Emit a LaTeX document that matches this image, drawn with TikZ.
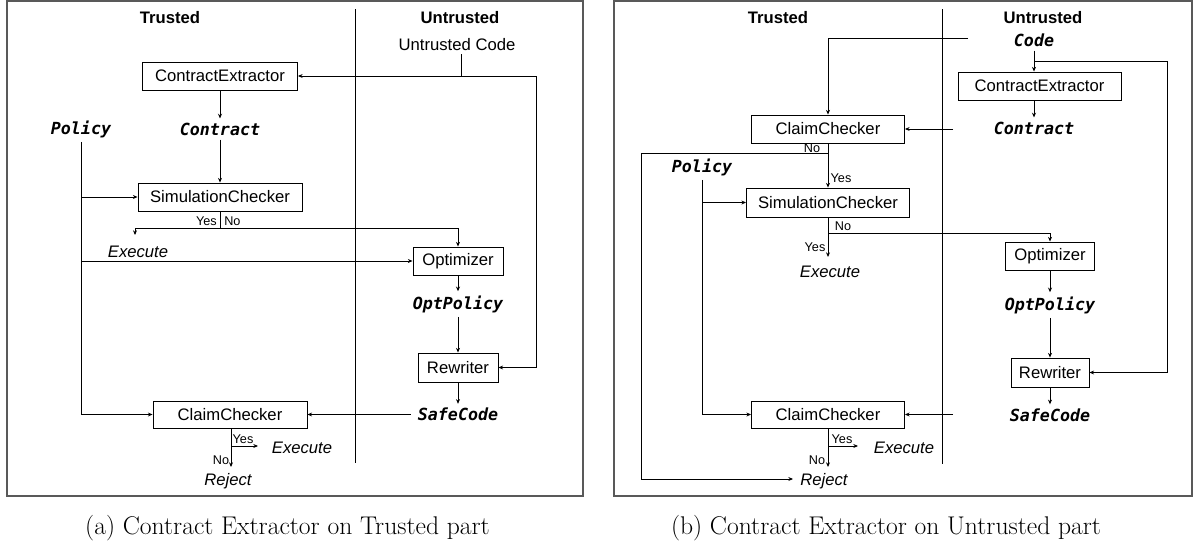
\documentclass[tikz,border=0pt]{standalone}
\usepackage{fontspec}
\newfontfamily\arial{Liberation Sans}
\newfontfamily\monof{DejaVu Sans Mono}
\usetikzlibrary{arrows.meta}
\begin{document}
\begin{tikzpicture}[x=0.75pt,y=-0.75pt,
 box/.style={draw,line width=0.7pt,inner sep=0pt,font=\arial\fontsize{12.5}{15}\selectfont},
 lbl/.style={inner sep=2pt,font=\arial\fontsize{12.5}{15}\selectfont},
 hdr/.style={inner sep=2pt,font=\arial\bfseries\fontsize{12.5}{15}\selectfont},
 itl/.style={inner sep=2pt,font=\arial\itshape\fontsize{12.5}{15}\selectfont},
 var/.style={inner ysep=3pt,inner xsep=5pt,font=\monof\bfseries\itshape\fontsize{12.5}{15}\selectfont},
 tiny/.style={inner sep=0pt,font=\arial\fontsize{9.5}{11}\selectfont},
 conn/.style={line width=0.6pt},
 arr/.style={conn,-{Stealth[length=3.5pt,width=3pt]}},
 frame/.style={draw=black!65,line width=1.3pt},
 divider/.style={line width=0.7pt},
 captxt/.style={inner sep=0pt,font=\fontsize{19.2}{22}\selectfont}]
\useasboundingbox (0,0) rectangle (1200,546);

% ---------------- left panel ----------------
\draw[frame] (7,1) rectangle (583,496);
\draw[divider] (355,9) -- (355,463);
\node[hdr] (tr1) at (170,18) {Trusted};
\node[hdr] (un1) at (460,18) {Untrusted};
\node[lbl] (uc1) at (457,45) {Untrusted Code};
\node[box,minimum width=116.25pt,minimum height=21pt] (ce1) at (220,76) {ContractExtractor};
\node[var] (con1) at (220,129) {Contract};
\node[var] (pol1) at (81,129) {Policy};
\node[box,minimum width=123pt,minimum height=21pt] (sim1) at (220,197) {SimulationChecker};
\node[itl] (ex1) at (138,252) {Execute};
\node[box,minimum width=67.5pt,minimum height=21pt] (opt1) at (458,261) {Optimizer};
\node[var] (op1) at (458,304) {OptPolicy};
\node[box,minimum width=60pt,minimum height=21.75pt] (rw1) at (458,367.5) {Rewriter};
\node[var] (sc1) at (458,414.5) {SafeCode};
\node[box,minimum width=115.5pt,minimum height=20.25pt] (cc1) at (230,414.5) {ClaimChecker};
\node[itl] (ex1b) at (302,448) {Execute};
\node[itl] (rj1) at (228,481) {Reject};
\node[tiny,anchor=east] (y1) at (217,221) {Yes};
\node[tiny,anchor=west] (n1) at (224,221) {No};
\node[tiny] (y1b) at (243,439) {Yes};
\node[tiny] (n1b) at (221,460) {No};

\coordinate (j1) at (461,76);
\coordinate (c1) at (536,76);
\coordinate (s1) at (220,228);
\coordinate (e1t) at (135,235);
\coordinate (k1) at (231,446);
\coordinate (k1y) at (258,446);
\coordinate (k1n) at (231,467);

\draw[conn] (uc1.south -| j1) -- (j1);
\draw[arr] (c1) -- (ce1.east);
\draw[arr] (c1) |- (rw1.east);
\draw[arr] (ce1) -- (con1);
\draw[arr] (con1) -- (sim1);
\draw[arr] (pol1.south) |- (cc1.west);
\draw[arr] (pol1.south |- sim1.west) -- (sim1.west);
\draw[arr] (pol1.south |- opt1.west) -- (opt1.west);
\draw[conn] (sim1.south) -- (s1);
\draw[arr] (s1) -| (e1t);
\draw[arr] (s1) -| (opt1.north);
\draw[arr] (opt1) -- (op1);
\draw[arr] (op1) -- (rw1);
\draw[arr] (rw1) -- (sc1);
\draw[arr] (sc1) -- (cc1);
\draw[arr] (cc1.south -| k1) -- (k1n);
\draw[arr] (k1) -- (k1y);

% ---------------- right panel ----------------
\draw[frame] (614,1) rectangle (1192,496);
\draw[divider] (942,9) -- (942,464);
\node[hdr] (tr2) at (778,18) {Trusted};
\node[hdr] (un2) at (1043,18) {Untrusted};
\node[var] (cd2) at (1034,40) {Code};
\node[box,minimum width=114.75pt,minimum height=21pt] (ct2) at (828,129) {ClaimChecker};
\node[box,minimum width=122.25pt,minimum height=21pt] (ce2) at (1039.5,86) {ContractExtractor};
\node[var] (con2) at (1034,128) {Contract};
\node[var] (pol2) at (702,167) {Policy};
\node[box,minimum width=122.25pt,minimum height=21.75pt] (sim2) at (828,202.5) {SimulationChecker};
\node[itl] (ex2) at (830,272) {Execute};
\node[box,minimum width=66.75pt,minimum height=21pt] (opt2) at (1050,256) {Optimizer};
\node[var] (op2) at (1050,305) {OptPolicy};
\node[box,minimum width=58.5pt,minimum height=21.75pt] (rw2) at (1050,372.5) {Rewriter};
\node[var] (sc2) at (1050,415) {SafeCode};
\node[box,minimum width=114.75pt,minimum height=20.25pt] (cc2) at (828,414.5) {ClaimChecker};
\node[itl] (ex2b) at (904,448) {Execute};
\node[itl] (rj2) at (824,481) {Reject};
\node[tiny] (n2a) at (812,148) {No};
\node[tiny] (y2a) at (841,178) {Yes};
\node[tiny] (n2b) at (843,226) {No};
\node[tiny] (y2b) at (815,247) {Yes};
\node[tiny] (y2c) at (842,439) {Yes};
\node[tiny] (n2c) at (817,460) {No};

\coordinate (q1) at (968,38);
\coordinate (q2) at (1034,61);
\coordinate (q3) at (1167,61);
\coordinate (q4) at (953,129);
\coordinate (n2) at (828,153);
\coordinate (n2l) at (641,153);
\coordinate (rj2t) at (793,479);
\coordinate (s2) at (828,233);
\coordinate (e2t) at (828,257);
\coordinate (q5) at (953,414.5);
\coordinate (k2) at (828,446);
\coordinate (k2y) at (858,446);
\coordinate (k2n) at (828,467);

\draw[arr] (q1) -| (ct2.north);
\draw[arr] (cd2.south) -- (cd2.south |- ce2.north);
\draw[arr] (q2) -- (q3) |- (rw2.east);
\draw[arr] (ce2.south -| con2) -- (con2.north);
\draw[arr] (q4) -- (ct2.east);
\draw[arr] (ct2.south) -- (sim2.north);
\draw[arr] (n2) -- (n2l) |- (rj2t);
\draw[arr] (pol2.south) |- (cc2.west);
\draw[arr] (pol2.south |- sim2.west) -- (sim2.west);
\draw[arr] (sim2.south) -- (e2t);
\draw[arr] (s2) -| (opt2.north);
\draw[arr] (opt2) -- (op2);
\draw[arr] (op2) -- (rw2);
\draw[arr] (rw2) -- (sc2);
\draw[arr] (q5) -- (cc2.east);
\draw[arr] (cc2.south) -- (k2n);
\draw[arr] (k2) -- (k2y);

% captions
\node[captxt] (capa) at (287.5,528) {(a) Contract Extractor on Trusted part};
\node[captxt] (capb) at (886,528) {(b) Contract Extractor on Untrusted part};
\end{tikzpicture}
\end{document}
